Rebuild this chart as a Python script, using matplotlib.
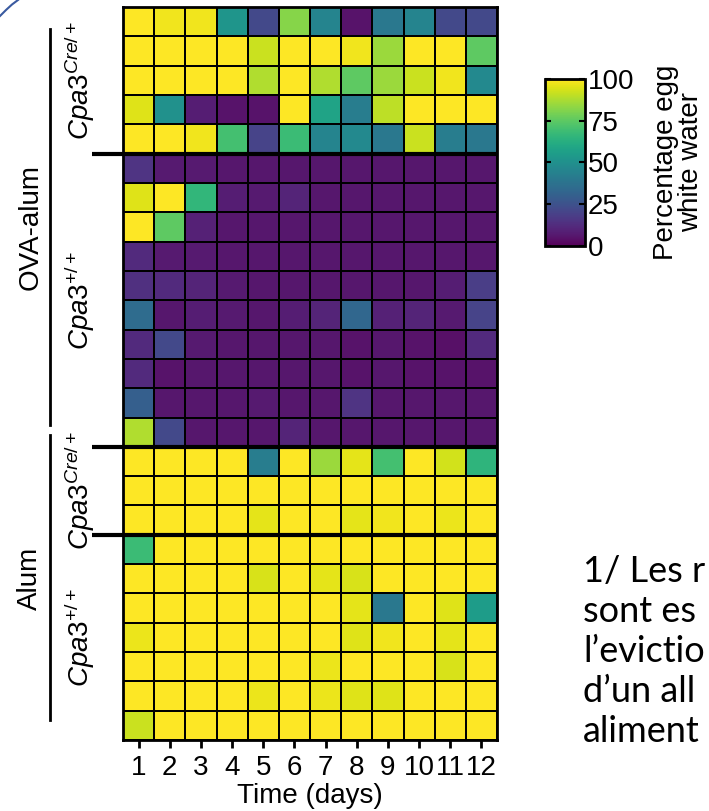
import numpy as np
import matplotlib
matplotlib.use("Agg")
import matplotlib.pyplot as plt
from matplotlib.lines import Line2D
from matplotlib.colors import ListedColormap

# Percentage of egg-white water consumed per mouse (rows) and day (columns)
days = list(range(1, 13))

ova_cre = [
    [100, 98, 98, 52, 22, 82, 45, 5, 40, 45, 22, 22],
    [100, 100, 100, 100, 92, 100, 100, 98, 85, 100, 100, 75],
    [100, 100, 100, 100, 88, 100, 88, 75, 85, 92, 98, 47],
    [95, 50, 8, 5, 5, 100, 58, 42, 90, 100, 100, 100],
    [100, 100, 98, 70, 20, 68, 45, 47, 40, 92, 42, 40],
]
ova_wt = [
    [15, 7, 7, 6, 6, 6, 6, 6, 6, 6, 6, 6],
    [95, 100, 66, 8, 7, 10, 6, 6, 6, 6, 6, 6],
    [100, 75, 9, 6, 6, 6, 6, 6, 6, 6, 6, 6],
    [12, 7, 7, 6, 6, 6, 6, 6, 6, 6, 6, 6],
    [14, 12, 10, 7, 6, 6, 6, 6, 6, 6, 8, 18],
    [35, 6, 8, 7, 6, 8, 10, 33, 9, 10, 7, 20],
    [12, 22, 7, 6, 6, 6, 6, 5, 6, 5, 4, 12],
    [12, 5, 6, 6, 6, 6, 6, 5, 6, 5, 5, 5],
    [30, 6, 6, 6, 7, 6, 6, 15, 6, 6, 6, 6],
    [88, 22, 6, 6, 6, 10, 6, 6, 6, 6, 6, 6],
]
alum_cre = [
    [100, 100, 100, 100, 42, 100, 85, 96, 70, 100, 93, 65],
    [100, 100, 100, 100, 100, 100, 100, 100, 100, 100, 100, 100],
    [100, 100, 100, 100, 96, 100, 100, 96, 98, 100, 97, 100],
]
alum_wt = [
    [68, 100, 100, 100, 100, 100, 100, 100, 100, 100, 100, 100],
    [100, 100, 100, 100, 94, 100, 96, 94, 100, 100, 100, 100],
    [100, 100, 100, 100, 100, 100, 100, 96, 40, 100, 95, 55],
    [97, 100, 100, 100, 100, 100, 100, 95, 98, 100, 96, 100],
    [100, 100, 100, 100, 100, 100, 97, 100, 100, 100, 94, 100],
    [100, 100, 100, 100, 97, 100, 97, 95, 95, 100, 100, 100],
    [92, 100, 100, 100, 100, 100, 100, 100, 100, 100, 100, 100],
]

treatments = ["OVA-alum", "Alum"]
genotype_labels = [r"$\mathit{Cpa3}^{\mathit{Cre/+}}$", r"$\mathit{Cpa3}^{\mathit{+/+}}$",
                   r"$\mathit{Cpa3}^{\mathit{Cre/+}}$", r"$\mathit{Cpa3}^{\mathit{+/+}}$"]
cbar_ticks = [0, 25, 50, 75, 100]
cbar_label = "Percentage egg\nwhite water"
xlabel = "Time (days)"
note_lines = ["1/ Les r", "sont es", "l’evictio", "d’un all", "aliment"]

plt.rcParams["font.family"] = ["Liberation Sans", "DejaVu Sans"]
plt.rcParams["mathtext.fontset"] = "custom"
plt.rcParams["mathtext.rm"] = "Liberation Sans"
plt.rcParams["mathtext.it"] = "Liberation Sans:italic"

# viridis with a slightly warmer purple end
base = plt.get_cmap("viridis")(np.linspace(0, 1, 256))
t = np.linspace(0, 1, 256)
boost = np.clip(1 - t / 0.3, 0, 1)
base[:, 0] = np.clip(base[:, 0] + 0.07 * boost, 0, 1)
base[:, 2] = np.clip(base[:, 2] + 0.02 * boost, 0, 1)
cmap = ListedColormap(base)

groups = [ova_cre, ova_wt, alum_cre, alum_wt]
values = np.array(ova_cre + ova_wt + alum_cre + alum_wt, dtype=float)
n_rows, n_cols = values.shape
bounds = np.cumsum([len(g) for g in groups])

fig = plt.figure(figsize=(7.09, 8.11), dpi=100)
ax = fig.add_axes([0.1735, 0.0875, 0.5275, 0.9038])
mesh = ax.pcolormesh(np.arange(n_cols + 1), np.arange(n_rows + 1), values,
                     cmap=cmap, vmin=0, vmax=100,
                     edgecolors="black", linewidth=1.3)
ax.set_xlim(0, n_cols)
ax.set_ylim(n_rows, 0)
ax.set_xticks(np.arange(n_cols) + 0.5, labels=[str(d) for d in days])
ax.set_yticks([])
ax.tick_params(axis="x", direction="out", length=6, width=2, pad=5, labelsize=20)
ax.set_xlabel(xlabel, fontsize=20, labelpad=1)
for s in ax.spines.values():
    s.set_linewidth(2)

# thick separators between genotype blocks
for b in bounds[:-1]:
    ax.plot([-1.0, n_cols], [b, b], color="black", lw=3, clip_on=False,
            solid_capstyle="butt")

# treatment brackets and labels
bx = -2.34
ax.plot([bx, bx], [0.75, 14.25], color="black", lw=2, clip_on=False)
ax.plot([bx, bx], [14.6, 24.3], color="black", lw=2, clip_on=False)
ax.text(-2.98, 7.5, treatments[0], rotation=90, ha="center", va="center", fontsize=20)
ax.text(-2.98, 19.5, treatments[1], rotation=90, ha="center", va="center", fontsize=20)

starts = np.concatenate([[0], bounds[:-1]])
for lab, s0, s1 in zip(genotype_labels, starts, bounds):
    ax.text(-1.4, (s0 + s1) / 2, lab, rotation=90, ha="center", va="center", fontsize=20)

# colour bar
cax = fig.add_axes([0.769, 0.6967, 0.0564, 0.206])
cb = fig.colorbar(mesh, cax=cax, ticks=cbar_ticks)
cb.outline.set_linewidth(2)
cax.tick_params(direction="in", length=4, width=1.5, left=True, right=True,
                labelsize=20, pad=2)
cb.set_label(cbar_label, fontsize=20, labelpad=13, linespacing=1.0)

# annotation text on the right
for i, line in enumerate(note_lines):
    fig.text(583 / 709, 1 - (571 + 40 * i) / 811, line, fontsize=26,
             family=["Lato", "DejaVu Sans"], ha="left", va="center")

# decorative arc in the corner
fig.add_artist(Line2D([0.0, 6 / 709, 12 / 709, 18 / 709],
                      [1 - 16 / 811, 1 - 10 / 811, 1 - 4.5 / 811, 1.0],
                      transform=fig.transFigure, color="#3a5aa0", lw=1.5))

fig.savefig("out.png", dpi=100)
